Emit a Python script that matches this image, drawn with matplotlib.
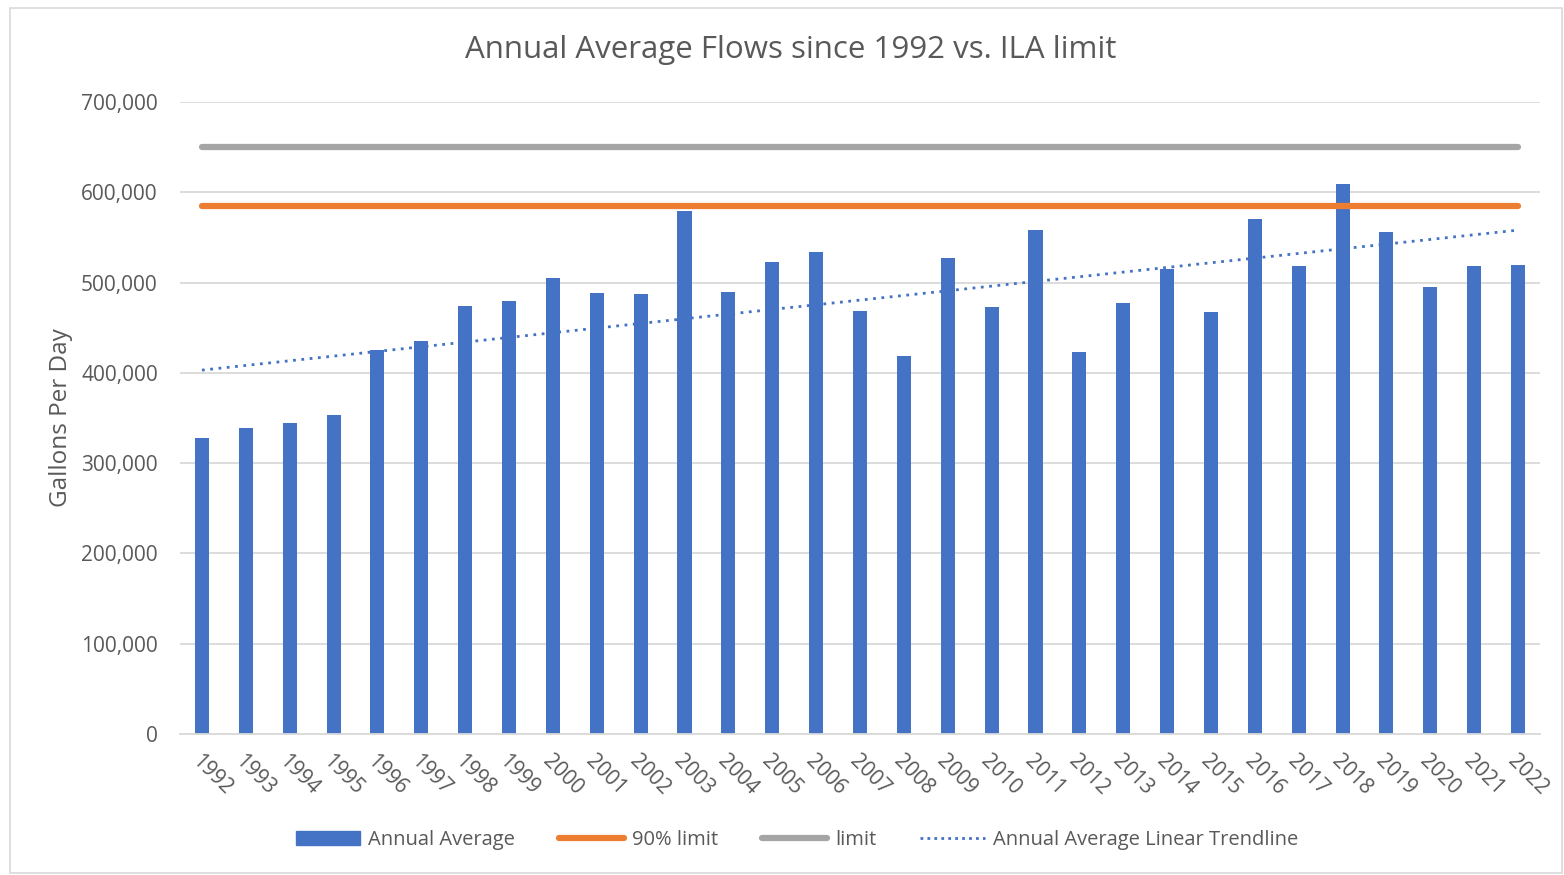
import numpy as np
import matplotlib.pyplot as plt
from matplotlib.lines import Line2D
from matplotlib.patches import Patch, Rectangle
from matplotlib.ticker import FuncFormatter

plt.rcParams['font.family'] = ['Open Sans', 'DejaVu Sans']

years = list(range(1992, 2023))
flows = [328000, 339000, 344000, 353000, 425000, 435000, 474000, 480000, 505000, 489000,
         487000, 579000, 490000, 523000, 534000, 469000, 419000, 527000, 473000, 558000,
         423000, 477000, 515000, 467000, 570000, 518000, 609000, 556000, 495000, 518000,
         519000]
limit = 650000
limit90 = 585000

blue = '#4472C4'
orange = '#ED7D31'
gray = '#A5A5A5'
txt = '#595959'

x = np.arange(len(years))

fig = plt.figure(figsize=(15.64, 8.75), dpi=100)
ax = fig.add_axes([180/1564, 1-734/875, 1360/1564, 632/875])

ax.bar(x, flows, width=0.32, color=blue, zorder=2)
ax.plot(x, [limit90]*len(x), color=orange, lw=4.5, solid_capstyle='round', zorder=3)
ax.plot(x, [limit]*len(x), color=gray, lw=4.5, solid_capstyle='round', zorder=3)

# linear trendline as excel computes it
k, b = np.polyfit(x, flows, 1)
ax.plot(x, k*x + b, color=blue, lw=2, linestyle=(0, (1, 2)), zorder=4)

ax.set_xlim(-0.5, len(x)-0.5)
ax.set_ylim(0, 700000)
ax.set_yticks(range(0, 700001, 100000))
ax.yaxis.set_major_formatter(FuncFormatter(lambda v, p: f'{int(v):,}'))
ax.grid(axis='y', color='#D9D9D9', lw=1.3, zorder=0)
for s in ['top', 'right', 'left']:
    ax.spines[s].set_visible(False)
ax.spines['bottom'].set_color('#D9D9D9')
ax.spines['bottom'].set_linewidth(1.3)
ax.tick_params(axis='y', length=0, pad=16, labelsize=15, labelcolor=txt)
ax.tick_params(axis='x', length=0, pad=12, labelsize=15, labelcolor=txt)
ax.set_xticks(x)
ax.set_xticklabels([str(y) for y in years], rotation=-45, ha='left', va='top',
                   rotation_mode='anchor')

ax.set_ylabel('Gallons Per Day', fontsize=17.5, color=txt, labelpad=6)

fig.text(791/1564, 0.943, 'Annual Average Flows since 1992 vs. ILA limit', ha='center',
         va='center', fontsize=22.5, color=txt)

handles = [Patch(color=blue),
           Line2D([], [], color=orange, lw=4.5, solid_capstyle='round'),
           Line2D([], [], color=gray, lw=4.5, solid_capstyle='round'),
           Line2D([], [], color=blue, lw=2, linestyle=(0, (1, 1.5)))]
labels = ['Annual Average', '90% limit', 'limit', 'Annual Average Linear Trendline']
fig.legend(handles, labels, loc='center', bbox_to_anchor=(797/1564, 0.04), ncol=4,
           frameon=False, fontsize=14.5, labelcolor=txt, handlelength=3.2,
           handleheight=0.7, columnspacing=2.2, handletextpad=0.4)

fig.patches.append(Rectangle((10/1564, 0.002), 1552/1564, 1-10/875, transform=fig.transFigure,
                             fill=False, edgecolor='#D9D9D9', lw=1.2))

fig.savefig('out.png', dpi=100)
